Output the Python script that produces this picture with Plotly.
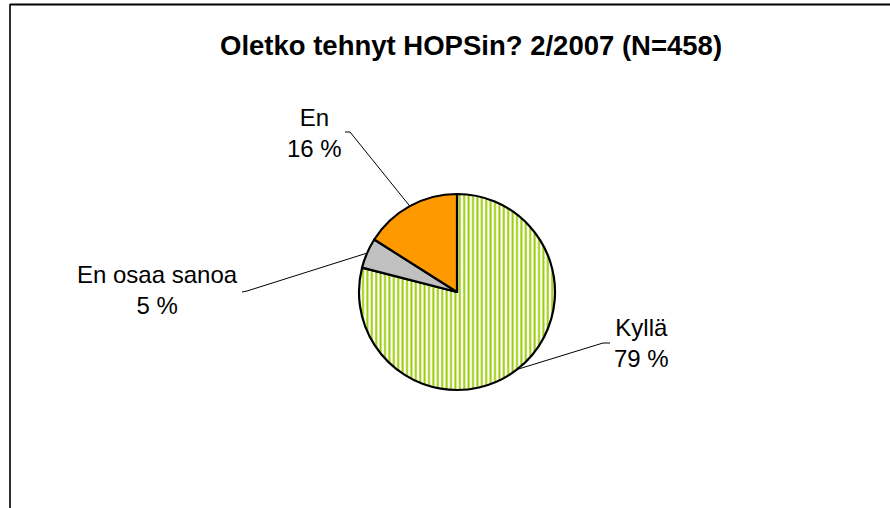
import math
import plotly.graph_objects as go

W, H = 890, 508

labels = ["Kyllä", "En osaa sanoa", "En"]
values = [79, 5, 16]
texts = ["Kyllä<br>79 %", "En osaa sanoa<br>5 %", "En<br>16 %"]
title = "Oletko tehnyt HOPSin? 2/2007 (N=458)"

colors = ["white", "#C0C0C0", "#FF9900"]

# layout (pixels)
cx, cy, r = 457, 292, 98
label_pos = [(641, 343), (157, 290), (314, 133)]     # label centers
elbow = [((603, 343), (610, 343)), ((247, 291), (242, 292)), ((350, 132), (345, 132))]


def px(x):
    return x / W


def py(y):
    return 1 - y / H


fig = go.Figure()
fig.add_trace(go.Pie(
    labels=labels, values=values, sort=False, direction="clockwise", rotation=0,
    textinfo="none", hoverinfo="label+percent", showlegend=False,
    domain=dict(x=[px(cx - r), px(cx + r)], y=[py(cy + r), py(cy - r)]),
    marker=dict(
        colors=colors,
        line=dict(color="black", width=2.2),
        pattern=dict(shape=["|", "", ""], fgcolor="#99CC00", bgcolor="white",
                     size=4.4, solidity=0.45),
    ),
))

shapes = []
annotations = []
total = sum(values)
cum = 0
for i, v in enumerate(values):
    mid = (cum + v / 2) / total * 2 * math.pi
    cum += v
    ex = cx + r * math.sin(mid)
    ey = cy - r * math.cos(mid)
    (bx, by), (tx, ty) = elbow[i]
    shapes.append(dict(type="path", xref="paper", yref="paper",
                       path=f"M {px(ex)},{py(ey)} L {px(bx)},{py(by)} L {px(tx)},{py(ty)}",
                       line=dict(color="black", width=1)))
    lx, ly = label_pos[i]
    annotations.append(dict(x=px(lx), y=py(ly), xref="paper", yref="paper",
                            text=texts[i], showarrow=False, align="center",
                            xanchor="center", yanchor="middle",
                            font=dict(family="Liberation Sans, Arial", size=24, color="black")))

# chart frame (left and top edges visible)
shapes.append(dict(type="line", xref="paper", yref="paper", x0=px(10), x1=px(10), y0=py(4), y1=0,
                   line=dict(color="#303030", width=2)))
shapes.append(dict(type="line", xref="paper", yref="paper", x0=px(10), x1=1, y0=py(4.5), y1=py(4.5),
                   line=dict(color="black", width=2)))

annotations.append(dict(x=px(471), y=py(45.5), xref="paper", yref="paper", text=f"<b>{title}</b>",
                        showarrow=False, xanchor="center", yanchor="middle",
                        font=dict(family="Liberation Sans, Arial", size=27.5, color="black")))

fig.update_layout(
    width=W, height=H, margin=dict(l=0, r=0, t=0, b=0),
    paper_bgcolor="white", plot_bgcolor="white",
    shapes=shapes, annotations=annotations,
)

fig.write_html("out.html", config={"displayModeBar": False},
               post_script="document.body.style.margin='0px';document.body.style.overflow='hidden';")
